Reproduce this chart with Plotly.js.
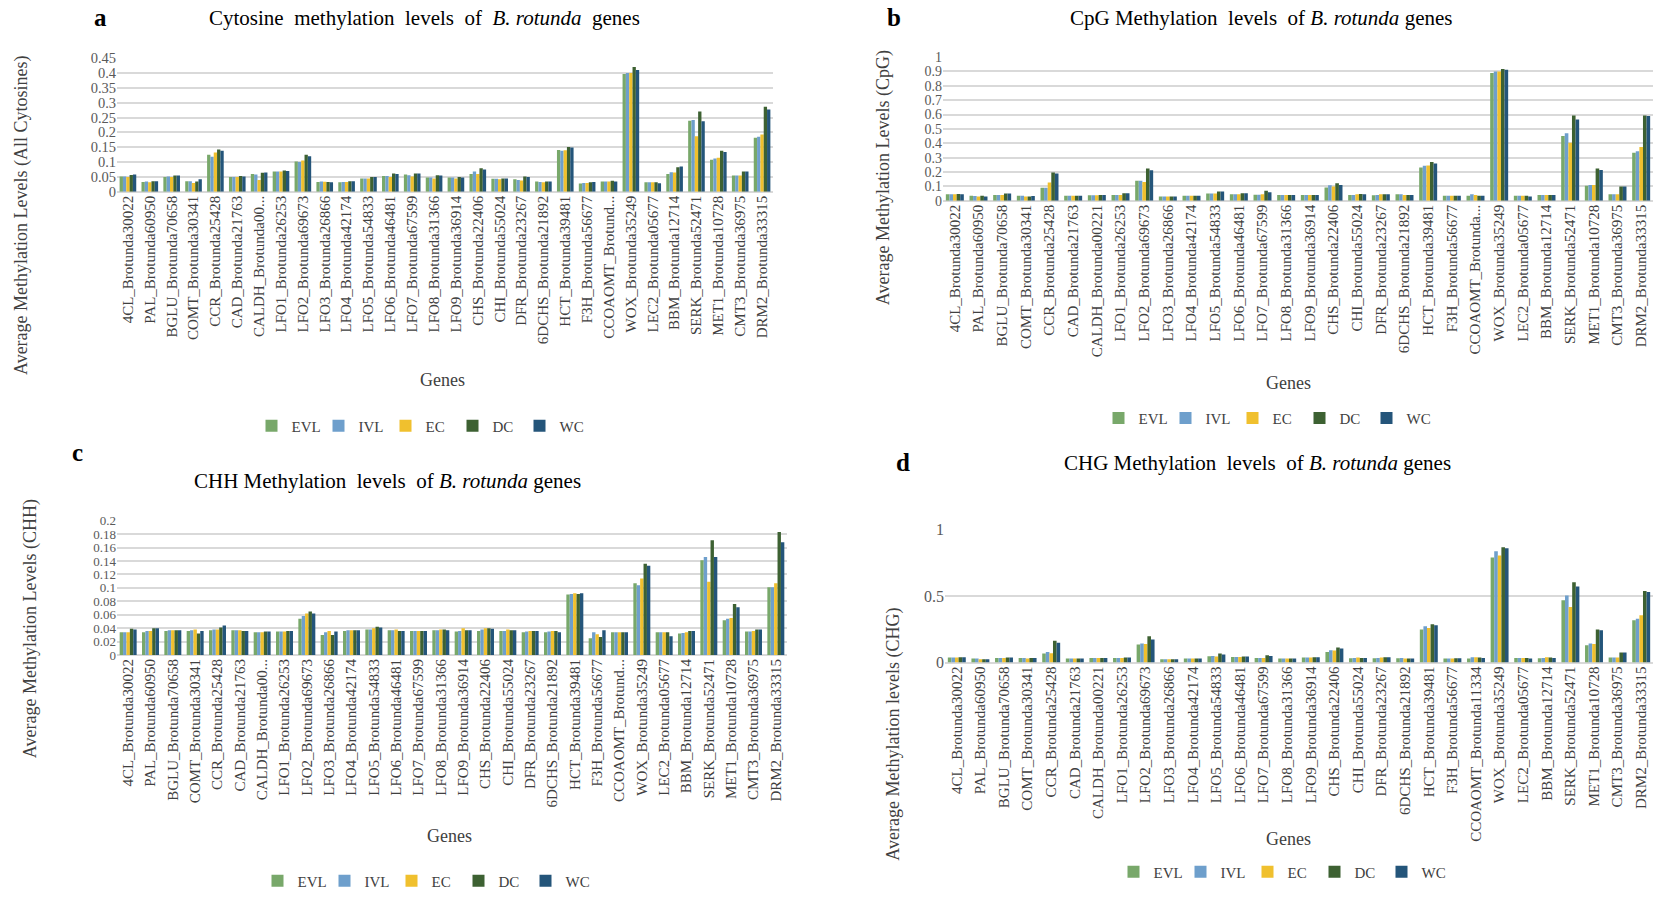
<!DOCTYPE html>
<html><head><meta charset="utf-8">
<script src="https://cdn.plot.ly/plotly-3.0.1.min.js"></script>
<style>html,body{margin:0;padding:0;background:#fff;overflow:hidden}</style>
</head><body><div id="chart" style="width:1653px;height:898px"></div>
<script>
const genes = ["4CL_Brotunda30022","PAL_Brotunda60950","BGLU_Brotunda70658","COMT_Brotunda30341","CCR_Brotunda25428","CAD_Brotunda21763","CALDH_Brotunda00221","LFO1_Brotunda26253","LFO2_Brotunda69673","LFO3_Brotunda26866","LFO4_Brotunda42174","LFO5_Brotunda54833","LFO6_Brotunda46481","LFO7_Brotunda67599","LFO8_Brotunda31366","LFO9_Brotunda36914","CHS_Brotunda22406","CHI_Brotunda55024","DFR_Brotunda23267","6DCHS_Brotunda21892","HCT_Brotunda39481","F3H_Brotunda56677","CCOAOMT_Brotunda11334","WOX_Brotunda35249","LEC2_Brotunda05677","BBM_Brotunda12714","SERK_Brotunda52471","MET1_Brotunda10728","CMT3_Brotunda36975","DRM2_Brotunda33315"];
const labelsAC = ["4CL_Brotunda30022","PAL_Brotunda60950","BGLU_Brotunda70658","COMT_Brotunda30341","CCR_Brotunda25428","CAD_Brotunda21763","CALDH_Brotunda00...","LFO1_Brotunda26253","LFO2_Brotunda69673","LFO3_Brotunda26866","LFO4_Brotunda42174","LFO5_Brotunda54833","LFO6_Brotunda46481","LFO7_Brotunda67599","LFO8_Brotunda31366","LFO9_Brotunda36914","CHS_Brotunda22406","CHI_Brotunda55024","DFR_Brotunda23267","6DCHS_Brotunda21892","HCT_Brotunda39481","F3H_Brotunda56677","CCOAOMT_Brotund...","WOX_Brotunda35249","LEC2_Brotunda05677","BBM_Brotunda12714","SERK_Brotunda52471","MET1_Brotunda10728","CMT3_Brotunda36975","DRM2_Brotunda33315"];
const labelsB = ["4CL_Brotunda30022","PAL_Brotunda60950","BGLU_Brotunda70658","COMT_Brotunda30341","CCR_Brotunda25428","CAD_Brotunda21763","CALDH_Brotunda00221","LFO1_Brotunda26253","LFO2_Brotunda69673","LFO3_Brotunda26866","LFO4_Brotunda42174","LFO5_Brotunda54833","LFO6_Brotunda46481","LFO7_Brotunda67599","LFO8_Brotunda31366","LFO9_Brotunda36914","CHS_Brotunda22406","CHI_Brotunda55024","DFR_Brotunda23267","6DCHS_Brotunda21892","HCT_Brotunda39481","F3H_Brotunda56677","CCOAOMT_Brotunda...","WOX_Brotunda35249","LEC2_Brotunda05677","BBM_Brotunda12714","SERK_Brotunda52471","MET1_Brotunda10728","CMT3_Brotunda36975","DRM2_Brotunda33315"];
const labelsD = genes;

const series = ["EVL","IVL","EC","DC","WC"];

// a: all cytosines
const allEVL = [0.052,0.033,0.05,0.036,0.125,0.05,0.06,0.068,0.102,0.033,0.032,0.045,0.053,0.058,0.048,0.048,0.06,0.044,0.042,0.035,0.141,0.028,0.035,0.396,0.032,0.06,0.239,0.108,0.055,0.182];
const allIVL = [0.052,0.035,0.052,0.036,0.118,0.05,0.058,0.068,0.1,0.035,0.033,0.045,0.053,0.056,0.048,0.048,0.068,0.044,0.04,0.033,0.138,0.03,0.035,0.4,0.032,0.066,0.242,0.112,0.055,0.185];
const allEC  = [0.05,0.032,0.05,0.03,0.132,0.05,0.04,0.068,0.105,0.034,0.033,0.045,0.05,0.052,0.045,0.045,0.06,0.042,0.038,0.032,0.14,0.03,0.035,0.4,0.032,0.065,0.187,0.115,0.055,0.193];
const allDC  = [0.057,0.036,0.055,0.035,0.142,0.053,0.064,0.072,0.125,0.033,0.036,0.05,0.062,0.062,0.056,0.05,0.079,0.045,0.052,0.035,0.151,0.032,0.037,0.42,0.032,0.083,0.27,0.138,0.068,0.286];
const allWC  = [0.058,0.036,0.055,0.042,0.138,0.052,0.065,0.07,0.12,0.032,0.036,0.05,0.06,0.062,0.055,0.048,0.075,0.045,0.05,0.035,0.149,0.033,0.035,0.41,0.029,0.085,0.237,0.134,0.068,0.277];

// b: CpG
const cpgEVL = [0.045,0.035,0.04,0.035,0.09,0.035,0.038,0.04,0.14,0.03,0.035,0.05,0.046,0.042,0.04,0.04,0.092,0.04,0.038,0.046,0.231,0.035,0.035,0.889,0.035,0.04,0.45,0.104,0.046,0.335];
const cpgIVL = [0.045,0.033,0.04,0.035,0.09,0.035,0.038,0.04,0.14,0.03,0.035,0.05,0.046,0.042,0.04,0.04,0.108,0.04,0.04,0.045,0.243,0.035,0.045,0.9,0.035,0.04,0.469,0.11,0.046,0.345];
const cpgEC  = [0.045,0.03,0.04,0.03,0.127,0.035,0.038,0.04,0.13,0.03,0.035,0.05,0.046,0.045,0.04,0.04,0.1,0.045,0.045,0.04,0.245,0.035,0.04,0.9,0.035,0.04,0.404,0.11,0.046,0.374];
const cpgDC  = [0.047,0.035,0.05,0.03,0.196,0.035,0.04,0.053,0.224,0.03,0.035,0.065,0.053,0.07,0.04,0.04,0.122,0.047,0.045,0.04,0.27,0.035,0.035,0.917,0.035,0.04,0.594,0.224,0.1,0.594];
const cpgWC  = [0.045,0.03,0.05,0.033,0.19,0.035,0.04,0.053,0.212,0.03,0.035,0.065,0.053,0.06,0.04,0.04,0.11,0.045,0.045,0.04,0.26,0.035,0.035,0.912,0.03,0.04,0.566,0.215,0.1,0.59];

// c: CHH
const chhEVL = [0.034,0.034,0.036,0.036,0.037,0.037,0.034,0.035,0.054,0.03,0.036,0.038,0.037,0.036,0.037,0.035,0.036,0.036,0.034,0.034,0.09,0.025,0.034,0.107,0.034,0.032,0.141,0.052,0.035,0.101];
const chhIVL = [0.034,0.036,0.037,0.037,0.038,0.037,0.034,0.035,0.058,0.034,0.037,0.038,0.037,0.036,0.037,0.036,0.038,0.036,0.035,0.035,0.091,0.034,0.034,0.104,0.034,0.033,0.146,0.054,0.035,0.101];
const chhEC  = [0.034,0.036,0.037,0.038,0.038,0.037,0.034,0.035,0.062,0.036,0.037,0.04,0.038,0.036,0.038,0.04,0.04,0.038,0.036,0.036,0.092,0.031,0.034,0.114,0.034,0.034,0.109,0.055,0.036,0.107];
const chhDC  = [0.039,0.04,0.037,0.032,0.041,0.036,0.035,0.036,0.065,0.03,0.037,0.042,0.036,0.036,0.038,0.037,0.04,0.037,0.036,0.036,0.091,0.027,0.034,0.136,0.034,0.036,0.171,0.076,0.038,0.183];
const chhWC  = [0.038,0.04,0.037,0.036,0.044,0.036,0.035,0.036,0.062,0.035,0.037,0.041,0.036,0.036,0.037,0.037,0.039,0.037,0.036,0.034,0.092,0.037,0.034,0.133,0.028,0.036,0.146,0.071,0.038,0.168];

// d: CHG
const chgEVL = [0.038,0.03,0.035,0.035,0.068,0.03,0.035,0.035,0.135,0.025,0.03,0.048,0.042,0.035,0.03,0.037,0.08,0.033,0.033,0.033,0.248,0.03,0.03,0.79,0.035,0.032,0.468,0.13,0.037,0.318];
const chgIVL = [0.038,0.03,0.035,0.035,0.08,0.03,0.035,0.035,0.143,0.025,0.03,0.05,0.042,0.035,0.03,0.037,0.093,0.035,0.035,0.035,0.273,0.03,0.04,0.838,0.035,0.035,0.505,0.143,0.037,0.33];
const chgEC  = [0.038,0.025,0.035,0.03,0.07,0.03,0.035,0.035,0.14,0.025,0.03,0.045,0.042,0.035,0.03,0.037,0.09,0.038,0.037,0.03,0.26,0.03,0.04,0.805,0.035,0.04,0.418,0.14,0.037,0.355];
const chgDC  = [0.04,0.025,0.037,0.035,0.163,0.03,0.035,0.037,0.198,0.025,0.03,0.068,0.045,0.055,0.03,0.04,0.113,0.035,0.04,0.03,0.288,0.033,0.037,0.867,0.035,0.038,0.605,0.248,0.075,0.538];
const chgWC  = [0.04,0.025,0.037,0.035,0.148,0.03,0.035,0.038,0.173,0.025,0.03,0.06,0.045,0.05,0.03,0.04,0.105,0.035,0.04,0.03,0.28,0.033,0.035,0.86,0.03,0.035,0.573,0.243,0.075,0.53];

const yTicksA = [0,0.05,0.1,0.15,0.2,0.25,0.3,0.35,0.4,0.45];
const yTextA = ["0","0.05","0.1","0.15","0.2","0.25","0.3","0.35","0.4","0.45"];
const yTicksB = [0,0.1,0.2,0.3,0.4,0.5,0.6,0.7,0.8,0.9,1];
const yTextB = ["0","0.1","0.2","0.3","0.4","0.5","0.6","0.7","0.8","0.9","1"];
const yTicksC = [0,0.02,0.04,0.06,0.08,0.1,0.12,0.14,0.16,0.18,0.2];
const yTextC = ["0","0.02","0.04","0.06","0.08","0.1","0.12","0.14","0.16","0.18","0.2"];
const yTicksD = [0,0.5,1];
const yTextD = ["0","0.5","1"];

const colors = ["#78a86a","#6e9fcc","#f0c02e","#3d6132","#24557a"];
const SERIF = "'Liberation Serif','Times New Roman',serif";
const W = 1653, H = 898;
const px = x => x / W, py = y => 1 - y / H;

const panels = [
  {data:[allEVL,allIVL,allEC,allDC,allWC], xa:"x", ya:"y", leg:"legend"},
  {data:[cpgEVL,cpgIVL,cpgEC,cpgDC,cpgWC], xa:"x2", ya:"y2", leg:"legend2"},
  {data:[chhEVL,chhIVL,chhEC,chhDC,chhWC], xa:"x3", ya:"y3", leg:"legend3"},
  {data:[chgEVL,chgIVL,chgEC,chgDC,chgWC], xa:"x4", ya:"y4", leg:"legend4"}
];
const traces = [];
panels.forEach(p => {
  series.forEach((s, i) => {
    traces.push({type:"bar", name:s, x:genes, y:p.data[i], xaxis:p.xa, yaxis:p.ya,
      legend:p.leg, marker:{color:colors[i], line:{width:0}}, hoverinfo:"x+y+name"});
  });
});

const grid = "#d9d9d9";
function xax(d0, d1, anchor, labels) {
  return {domain:[px(d0), px(d1)], anchor:anchor, type:"category", range:[-0.5, 29.5],
    tickmode:"array", tickvals:genes, ticktext:labels, tickangle:-90,
    tickfont:{family:SERIF, size:15, color:"#404040"}, showgrid:false, ticks:"",
    showline:false, zeroline:false, automargin:false, fixedrange:true};
}
function yax(top, bot, anchor, vals, text, maxv, fs) {
  return {domain:[py(bot), py(top)], anchor:anchor, range:[0, maxv], tickmode:"array",
    tickvals:vals, ticktext:text, tickfont:{family:SERIF, size:fs, color:"#595959"},
    showgrid:true, gridcolor:grid, gridwidth:1.5, zeroline:true, zerolinecolor:grid,
    zerolinewidth:1.5, showline:false, ticks:"", automargin:false, fixedrange:true};
}

const legFont = {family:SERIF, size:15, color:"#404040"};
function leg(cx, cy) {
  return {orientation:"h", x:px(cx), y:py(cy), xanchor:"center", yanchor:"middle",
    font:legFont, itemwidth:30, entrywidth:22, entrywidthmode:"pixels",
    bgcolor:"rgba(0,0,0,0)", traceorder:"normal"};
}

function ann(text, x, y, size, opts) {
  return Object.assign({text:text, x:px(x), y:py(y), xref:"paper", yref:"paper",
    showarrow:false, xanchor:"center", yanchor:"middle",
    font:{family:SERIF, size:size, color:"#000"}}, opts || {});
}
const axFont = {family:SERIF, size:18, color:"#404040"};
const sp = "&nbsp;&nbsp;";

const layout = {
  width:W, height:H, margin:{l:0,r:0,t:0,b:0}, paper_bgcolor:"#fff", plot_bgcolor:"#fff",
  barmode:"group", bargap:0.24, bargroupgap:0, showlegend:true,
  xaxis: xax(117, 773, "y", labelsAC),
  yaxis: yax(58.3, 192.7, "x", yTicksA, yTextA, 0.45, 14.5),
  xaxis2: xax(943, 1653, "y2", labelsB),
  yaxis2: yax(57.3, 201.7, "x2", yTicksB, yTextB, 1, 14),
  xaxis3: xax(117, 787, "y3", labelsAC),
  yaxis3: yax(523, 658, "x3", yTicksC, yTextC, 0.2, 13),
  xaxis4: xax(945, 1653, "y4", labelsD),
  yaxis4: yax(532, 665.5, "x4", yTicksD, yTextD, 1, 16),
  legend: leg(419, 428),
  legend2: leg(1266, 420),
  legend3: leg(425, 885),
  legend4: leg(1281, 876),
  annotations: [
    ann("<b>a</b>", 100, 18, 25),
    ann("Cytosine" + sp + "methylation" + sp + "levels" + sp + "of" + sp + "<i>B. rotunda</i>" + sp + "genes", 424, 18, 21),
    ann("<b>b</b>", 894, 18, 25),
    ann("CpG Methylation" + sp + "levels" + sp + "of <i>B. rotunda</i> genes", 1261, 18, 21),
    ann("<b>c</b>", 77, 455, 25),
    ann("CHH Methylation" + sp + "levels" + sp + "of <i>B. rotunda</i> genes", 387, 483, 21),
    ann("<b>d</b>", 903, 465, 25),
    ann("CHG Methylation" + sp + "levels" + sp + "of <i>B. rotunda</i> genes", 1257, 465, 21),
    ann("Average Methylation Levels (All Cytosines)", 21, 216, 18, {textangle:-90, font:axFont}),
    ann("Average Methylation Levels (CpG)", 883, 179, 18, {textangle:-90, font:axFont}),
    ann("Average Methylation Levels (CHH)", 30, 632, 18, {textangle:-90, font:axFont}),
    ann("Average Methylation levels (CHG)", 894, 738, 18, {textangle:-90, font:axFont}),
    ann("Genes", 443, 382, 18, {font:axFont}),
    ann("Genes", 1288, 385, 18, {font:axFont}),
    ann("Genes", 449, 840, 18, {font:axFont}),
    ann("Genes", 1288, 843, 18, {font:axFont})
  ]
};

Plotly.newPlot("chart", traces, layout, {displayModeBar:false, staticPlot:false, responsive:false});
</script></body></html>
